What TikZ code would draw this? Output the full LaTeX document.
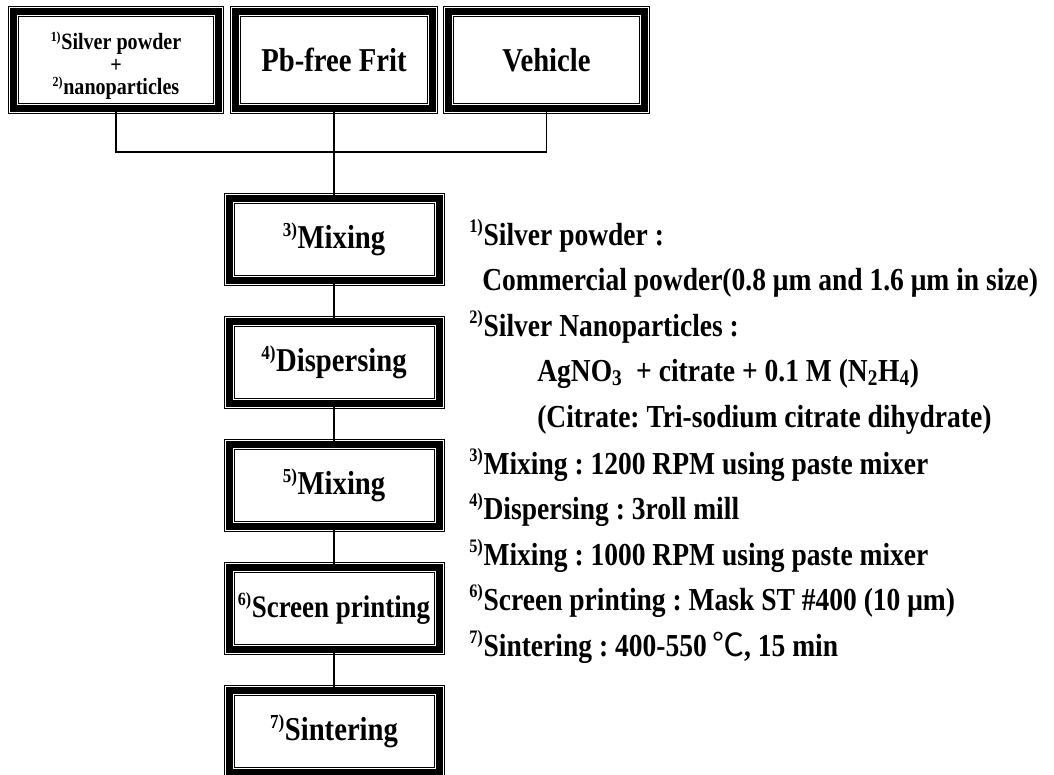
\documentclass[tikz,border=0pt]{standalone}
\usepackage{fontspec}
\usepackage{graphicx}
\setmainfont{Liberation Serif}[FakeStretch=0.86]
\newfontfamily\cjk{Noto Sans CJK SC}
\usepackage{tikz}
\frenchspacing

% small raised note number, as 3)
\newcommand{\sups}[1]{\textsuperscript{\scalebox{0.85}{#1}}}

\tikzset{
  stepbox/.style={draw, line width=5.25pt,
    preaction={draw, line width=0.75pt, double, double distance=6.75pt},
    minimum width=157.5pt, minimum height=61.5pt, inner sep=0pt, align=center,
    font=\bfseries\fontsize{25}{30}\selectfont},
  topbox/.style={stepbox, minimum width=147.5pt, minimum height=72.75pt},
  note/.style={anchor=base west, inner sep=0pt, font=\bfseries\fontsize{24}{28}\selectfont},
  link/.style={line width=1.2pt}
}

\begin{document}
\begin{tikzpicture}[x=0.75pt,y=0.75pt,yscale=-1,xscale=1]
        \useasboundingbox (0,0) rectangle (1054,775);

        \node [topbox, minimum width=153.75pt, font=\bfseries\fontsize{17.5}{17}\selectfont] (silver) at (116,60) {\rule{0pt}{22pt}\sups{1)}Silver powder\\+\\\sups{2)}nanoparticles};
        \node [topbox] (frit) at (334,60) {Pb-free Frit};
        \node [topbox] (vehicle) at (546.5,60) {Vehicle};
        \coordinate (junction) at (334,152);

        \node [stepbox] (mix1) at (334,239.5) {\sups{3)}Mixing};
        \node [stepbox] (disp) at (334,362.5) {\sups{4)}Dispersing};
        \node [stepbox] (mix2) at (334,485.5) {\sups{5)}Mixing};
        \node [stepbox, font=\bfseries\fontsize{23.5}{28}\selectfont] (print) at (334,608.5) {\sups{6)}Screen printing};
        \node [stepbox] (sinter) at (334,731.5) {\sups{7)}Sintering};

        \draw [link] (silver.south) |- (junction) -| (vehicle.south);
        \draw [link] (frit.south) -- (mix1.north);
        \draw [link] (mix1) -- (disp);
        \draw [link] (disp) -- (mix2);
        \draw [link] (mix2) -- (print);
        \draw [link] (print) -- (sinter);

        \node [note] (note1) at (469,245) {\sups{1)}Silver powder :};
        \node [note] (note2) at (482,290) {Commercial powder(0.8 μm and 1.6 μm in size)};
        \node [note] (note3) at (469,336) {\sups{2)}Silver Nanoparticles :};
        \node [note] (note4) at (537,381) {AgNO\textsubscript{3} \ + citrate + 0.1 M (N\textsubscript{2}H\textsubscript{4})};
        \node [note] (note5) at (537,427) {(Citrate: Tri-sodium citrate dihydrate)};
        \node [note] (note6) at (469,474) {\sups{3)}Mixing : 1200 RPM using paste mixer};
        \node [note] (note7) at (469,519) {\sups{4)}Dispersing : 3roll mill};
        \node [note] (note8) at (469,565) {\sups{5)}Mixing : 1000 RPM using paste mixer};
        \node [note] (note9) at (469,610) {\sups{6)}Screen printing : Mask ST \#400 (10 μm)};
        \node [note] (note10) at (469,656) {\sups{7)}Sintering : 400-550\,{\cjk\mdseries ℃}, 15 min};

\end{tikzpicture}
\end{document}
